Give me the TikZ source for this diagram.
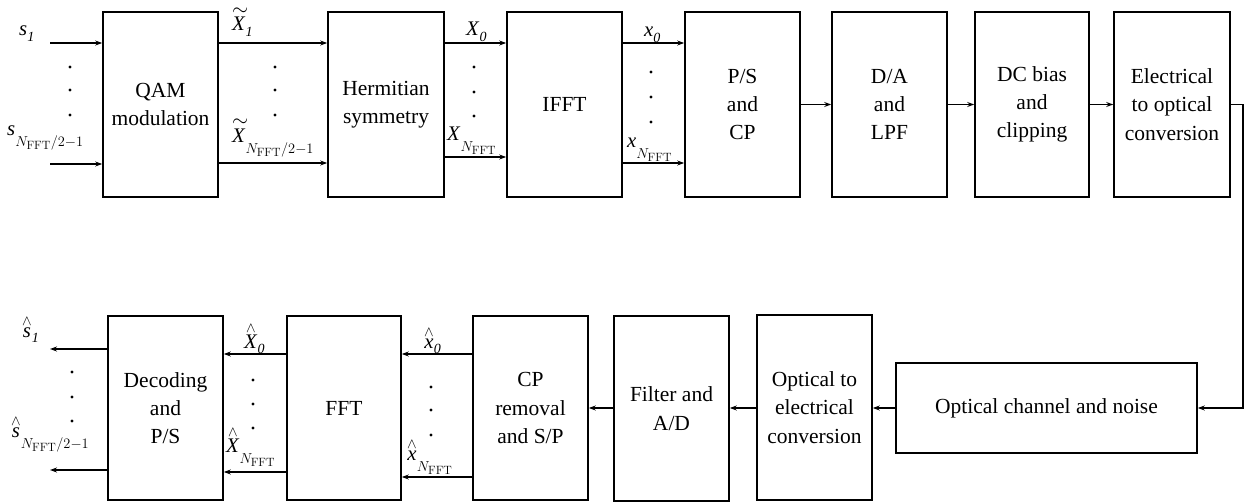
\documentclass[tikz,border=0pt]{standalone}
\usepackage[no-math]{fontspec}
\setmainfont{Liberation Serif}
\usetikzlibrary{arrows.meta}
\newcommand\ti[1]{\textit{#1}}
\newcommand\sbi[1]{\raisebox{-0.26em}{\fontsize{14}{14}\selectfont\textit{#1}}}
\newcommand\nsb[1]{\raisebox{-0.55em}{$\scriptstyle #1$}}
\newcommand\tl[1]{\makebox[0pt][l]{\raisebox{0.74em}{$\sim$}}\textit{#1}}
\newcommand\hta[1]{$\stackrel{\wedge}{\mbox{\textit{#1}}}$}
\begin{document}
\begin{tikzpicture}[x=1pt,y=-1pt,
 blk/.style={draw, line width=1.6pt, inner sep=0pt, align=center, font=\fontsize{21.5}{28.3}\selectfont},
 arr/.style={line width=1.3pt, -{Stealth[length=7pt,width=5pt]}},
 lbl/.style={inner sep=0pt, font=\fontsize{20.74}{24}\selectfont, anchor=base west},
 dotn/.style={circle, fill, inner sep=0pt, minimum size=3.2pt}]
\useasboundingbox (0,0) rectangle (1247,503);
% top row
\node[blk, minimum width=115pt, minimum height=185pt] (QAM) at (160.5,104.5) {QAM\\modulation};
\node[blk, minimum width=116pt, minimum height=185pt] (Herm) at (386,104.5) {Hermitian\\symmetry};
\node[blk, minimum width=115pt, minimum height=185pt] (IFFT) at (564.5,104.5) {IFFT};
\node[blk, minimum width=115pt, minimum height=185pt] (PS) at (742.5,104.5) {P/S\\and\\CP};
\node[blk, minimum width=115pt, minimum height=185pt] (DA) at (889.5,104.5) {D/A\\and\\LPF};
\node[blk, minimum width=114pt, minimum height=185pt] (DC) at (1032,104.5) {DC bias\\and\\clipping};
\node[blk, minimum width=116pt, minimum height=185pt] (EO) at (1172,104.5) {Electrical\\to optical\\conversion};
% bottom row
\node[blk, minimum width=115pt, minimum height=184pt] (Dec) at (165.5,408) {Decoding\\and\\P/S};
\node[blk, minimum width=114pt, minimum height=184pt] (FFT) at (344,408) {FFT};
\node[blk, minimum width=115pt, minimum height=184pt] (CPr) at (530.5,408) {CP\\removal\\and S/P};
\node[blk, minimum width=115pt, minimum height=185pt] (Filt) at (671.5,408.5) {Filter and\\A/D};
\node[blk, minimum width=115pt, minimum height=185pt] (OE) at (814.5,407.5) {Optical to\\electrical\\conversion};
\node[blk, minimum width=301pt, minimum height=90pt] (Chan) at (1046.5,408) {Optical channel and noise};
% helper coordinates
\coordinate (y43) at (0,43);
\coordinate (y163) at (0,163);
\coordinate (y157) at (0,157);
\coordinate (y104) at (0,104.5);
\coordinate (y354) at (0,354);
\coordinate (y477) at (0,477);
\coordinate (y472) at (0,472);
\coordinate (y408) at (0,408);
\coordinate (i1) at (50,43);
\coordinate (i2) at (50,164);
\coordinate (o1) at (50,349);
\coordinate (o2) at (50,470);
\coordinate (fb1) at (1243,104.5);
\coordinate (fb2) at (1243,408);
% top connectors
\draw[arr] (i1) -- (i1 -| QAM.west);
\draw[arr] (i2) -- (i2 -| QAM.west);
\draw[arr] (QAM.east |- y43) -- (Herm.west |- y43);
\draw[arr] (QAM.east |- y163) -- (Herm.west |- y163);
\draw[arr] (Herm.east |- y43) -- (IFFT.west |- y43);
\draw[arr] (Herm.east |- y157) -- (IFFT.west |- y157);
\draw[arr] (IFFT.east |- y43) -- (PS.west |- y43);
\draw[arr] (IFFT.east |- y163) -- (PS.west |- y163);
\draw[arr] (PS.east |- y104) -- (DA.west |- y104);
\draw[arr] (DA.east |- y104) -- (DC.west |- y104);
\draw[arr] (DC.east |- y104) -- (EO.west |- y104);
\draw[arr] (EO.east |- fb1) -- (fb1) -- (fb2) -- (fb2 -| Chan.east);
% bottom connectors
\draw[arr] (Chan.west |- y408) -- (OE.east |- y408);
\draw[arr] (OE.west |- y408) -- (Filt.east |- y408);
\draw[arr] (Filt.west |- y408) -- (CPr.east |- y408);
\draw[arr] (CPr.west |- y354) -- (FFT.east |- y354);
\draw[arr] (CPr.west |- y477) -- (FFT.east |- y477);
\draw[arr] (FFT.west |- y354) -- (Dec.east |- y354);
\draw[arr] (FFT.west |- y472) -- (Dec.east |- y472);
\draw[arr] (o1 -| Dec.west) -- (o1);
\draw[arr] (o2 -| Dec.west) -- (o2);
% dots
\node[dotn] (da1) at (70,67) {};
\node[dotn] (da2) at (70,90) {};
\node[dotn] (da3) at (70,115) {};
\node[dotn] (db1) at (275,67) {};
\node[dotn] (db2) at (275,90) {};
\node[dotn] (db3) at (275,115) {};
\node[dotn] (dc1) at (474,67) {};
\node[dotn] (dc2) at (474,92) {};
\node[dotn] (dc3) at (474,116) {};
\node[dotn] (dd1) at (651,72) {};
\node[dotn] (dd2) at (651,97) {};
\node[dotn] (dd3) at (651,122) {};
\node[dotn] (de1) at (72,372) {};
\node[dotn] (de2) at (72,397) {};
\node[dotn] (de3) at (72,421) {};
\node[dotn] (df1) at (253,380) {};
\node[dotn] (df2) at (253,404) {};
\node[dotn] (df3) at (253,428) {};
\node[dotn] (dg1) at (431,387) {};
\node[dotn] (dg2) at (431,410) {};
\node[dotn] (dg3) at (431,435) {};
% labels
\node[lbl] (ls1) at (19,36) {\ti{s}\sbi{1}};
\node[lbl] (lsN) at (7,135) {\ti{s}\nsb{N_{\mathrm{FFT}}/2-1}};
\node[lbl] (lX1) at (232,31) {\tl{X}\sbi{1}};
\node[lbl] (lXN) at (232,142) {\tl{X}\nsb{N_{\mathrm{FFT}}/2-1}};
\node[lbl] (lXz) at (466,36) {\ti{X}\sbi{0}};
\node[lbl] (lXF) at (447,140) {\ti{X}\nsb{N_{\mathrm{FFT}}}};
\node[lbl] (lxz) at (644,37) {\ti{x}\sbi{0}};
\node[lbl] (lxF) at (627,147) {\ti{x}\nsb{N_{\mathrm{FFT}}}};
\node[lbl] (hs1) at (22,337) {\hta{s}\sbi{1}};
\node[lbl] (hsN) at (11,437) {\hta{s}\nsb{N_{\mathrm{FFT}}/2-1}};
\node[lbl] (hXz) at (244,348) {\hta{X}\sbi{0}};
\node[lbl] (hXF) at (226,452) {\hta{X}\nsb{N_{\mathrm{FFT}}}};
\node[lbl] (hxz) at (424,348) {\hta{x}\sbi{0}};
\node[lbl] (hxF) at (407,460) {\hta{x}\nsb{N_{\mathrm{FFT}}}};
\end{tikzpicture}
\end{document}
